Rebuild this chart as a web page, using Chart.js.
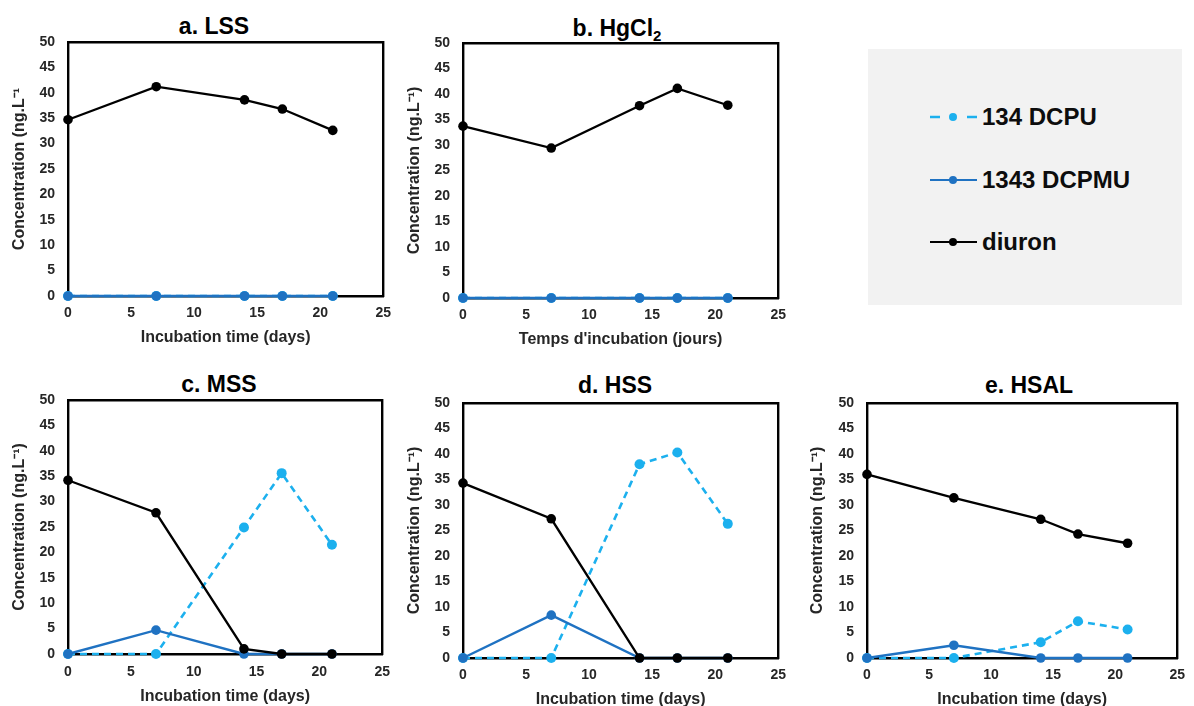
<!DOCTYPE html>
<html>
<head>
<meta charset="utf-8">
<script src="https://cdn.jsdelivr.net/npm/chart.js@4.4.0/dist/chart.umd.min.js"></script>
<style>
  html, body { margin:0; padding:0; background:#fff; }
  body { width:1194px; height:706px; overflow:hidden; position:relative; font-family:"Liberation Sans", Arial, sans-serif; }
  .panel { position:absolute; }
  .ptitle { position:absolute; width:300px; text-align:center; font-weight:bold; font-size:23px; line-height:23px; color:#000; white-space:nowrap; }
  .ptitle sub { font-size:15px; vertical-align:-5px; line-height:0; }
  #legend { position:absolute; left:868px; top:49px; width:314px; height:256px; background:#f2f2f2; }
  .lrow { position:absolute; left:926px; height:24px; }
  .lrow svg { position:absolute; left:0; top:0; }
  .lrow span { position:absolute; left:56px; top:0; font-weight:bold; font-size:24px; line-height:24px; color:#0d0d0d; white-space:nowrap; }
</style>
</head>
<body>
<div id="legend"></div>
<div class="lrow" style="top:105px">
  <svg width="56" height="24"><line x1="4" y1="12" x2="14" y2="12" stroke="#1cb0ee" stroke-width="2.5"/><circle cx="27" cy="12" r="4" fill="#1cb0ee"/><line x1="41" y1="12" x2="51" y2="12" stroke="#1cb0ee" stroke-width="2.5"/></svg>
  <span id="lg0"></span>
</div>
<div class="lrow" style="top:168px">
  <svg width="56" height="24"><line x1="4" y1="12" x2="51" y2="12" stroke="#1f72c2" stroke-width="2.2"/><circle cx="27" cy="12" r="4" fill="#1f72c2"/></svg>
  <span id="lg1"></span>
</div>
<div class="lrow" style="top:230px">
  <svg width="56" height="24"><line x1="4" y1="12" x2="51" y2="12" stroke="#000" stroke-width="2.2"/><circle cx="27" cy="12" r="4" fill="#000"/></svg>
  <span id="lg2"></span>
</div>

<div class="ptitle" style="left:64px; top:15px">a. LSS</div>
<div class="ptitle" style="left:467px; top:17px">b. HgCl<sub>2</sub></div>
<div class="ptitle" style="left:69px; top:373px">c. MSS</div>
<div class="ptitle" style="left:465px; top:374px">d. HSS</div>
<div class="ptitle" style="left:879px; top:374px">e. HSAL</div>

<div class="panel" style="left:0px; top:0px; width:400px; height:350px"><canvas id="cA" width="400" height="350"></canvas></div>
<div class="panel" style="left:395px; top:0px; width:400px; height:350px"><canvas id="cB" width="400" height="350"></canvas></div>
<div class="panel" style="left:0px; top:350px; width:400px; height:356px"><canvas id="cC" width="400" height="356"></canvas></div>
<div class="panel" style="left:395px; top:350px; width:400px; height:360px"><canvas id="cD" width="400" height="360"></canvas></div>
<div class="panel" style="left:798px; top:350px; width:396px; height:360px"><canvas id="cE" width="396" height="360"></canvas></div>

<script>
// ---- data ----
const days = [0, 7, 14, 17, 21];
const seriesNames = ['134 DCPU', '1343 DCPMU', 'diuron'];

const lssDCPU   = [0, 0, 0, 0, 0];
const lssDCPMU  = [0, 0, 0, 0, 0];
const lssDiuron = [34.7, 41.2, 38.6, 36.8, 32.6];

const hgDCPU    = [0, 0, 0, 0, 0];
const hgDCPMU   = [0, 0, 0, 0, 0];
const hgDiuron  = [33.7, 29.4, 37.7, 41.1, 37.8];

const mssDCPU   = [0, 0, 24.9, 35.6, 21.5];
const mssDCPMU  = [0, 4.7, 0, 0, 0];
const mssDiuron = [34.2, 27.8, 1.0, 0, 0];

const hssDCPU   = [0, 0, 38.0, 40.3, 26.3];
const hssDCPMU  = [0, 8.4, 0, 0, 0];
const hssDiuron = [34.3, 27.3, 0, 0, 0];

const hsalDCPU   = [0, 0, 3.1, 7.2, 5.6];
const hsalDCPMU  = [0, 2.5, 0, 0, 0];
const hsalDiuron = [36.0, 31.4, 27.2, 24.3, 22.5];

const xMin = 0, xMax = 25, xStep = 5;
const yMin = 0, yMax = 50, yStep = 5;

const xTitleEN = 'Incubation time (days)';
const xTitleFR = "Temps d'incubation (jours)";
const yTitleOpen = 'Concentration (ng.L\u207B\u00B9';
const yTitle = 'Concentration (ng.L\u207B\u00B9)';

// ---- styles ----
const FONT = '"Liberation Sans", Arial, sans-serif';
const COL_DCPU = '#1cb0ee', COL_DCPMU = '#1f72c2', COL_DIURON = '#000000';
const TXT = '#262626';

document.getElementById('lg0').textContent = seriesNames[0];
document.getElementById('lg1').textContent = seriesNames[1];
document.getElementById('lg2').textContent = seriesNames[2];

function pts(vals) { return days.map((d, i) => ({x: d, y: vals[i]})); }

function makePanel(id, o) {
  const datasets = [
    { label: seriesNames[2], data: pts(o.diuron), borderColor: COL_DIURON, backgroundColor: COL_DIURON,
      borderWidth: 2.3, pointRadius: 4.8, pointBorderWidth: 0, pointBackgroundColor: COL_DIURON, order: 0, clip: false },
    { label: seriesNames[1], data: pts(o.dcpmu), borderColor: COL_DCPMU, backgroundColor: COL_DCPMU,
      borderWidth: 2.4, pointRadius: 4.8, pointBorderWidth: 0, pointBackgroundColor: COL_DCPMU, order: 1, clip: false },
    { label: seriesNames[0], data: pts(o.dcpu), borderColor: COL_DCPU, backgroundColor: COL_DCPU,
      borderWidth: 2.6, borderDash: [7, 5], pointRadius: 5, pointBorderWidth: 0, pointBackgroundColor: COL_DCPU, order: 2, clip: false }
  ];
  new Chart(document.getElementById(id), {
    type: 'line',
    data: { datasets },
    options: {
      responsive: false,
      animation: false,
      devicePixelRatio: 1,
      layout: { padding: { left: 0, right: o.padR, top: o.padT, bottom: o.padB } },
      plugins: { legend: { display: false }, tooltip: { enabled: false }, title: { display: false } },
      elements: { line: { tension: 0 } },
      scales: {
        x: {
          type: 'linear', position: 'bottom', min: xMin, max: xMax,
          ticks: { stepSize: xStep, padding: o.xTickPad, color: TXT, font: { family: FONT, size: 14, weight: 'bold' }, maxRotation: 0, autoSkip: false },
          grid: { display: false, drawTicks: false },
          border: { display: true, color: '#000', width: 2.4 },
          title: { display: true, text: o.xTitle, color: TXT, font: { family: FONT, size: 16, weight: 'bold' }, padding: { top: 0, bottom: o.xTitlePadB } },
          afterFit: s => { s.height = o.xH; }
        },
        y: {
          type: 'linear', position: 'left', min: yMin, max: yMax,
          ticks: { stepSize: yStep, padding: 13, color: TXT, font: { family: FONT, size: 14, weight: 'bold' }, autoSkip: false },
          grid: { display: false, drawTicks: false },
          border: { display: true, color: '#000', width: 2.4 },
          title: { display: true, text: o.yTitle, color: TXT, font: { family: FONT, size: 16, weight: 'bold' }, padding: { top: 10.4, bottom: 0 } },
          afterFit: s => { s.width = o.yW; }
        },
        xTop: {
          type: 'linear', position: 'top', display: true, min: 0, max: 1,
          ticks: { display: false }, grid: { display: false, drawTicks: false },
          border: { display: true, color: '#000', width: 2.4 },
          afterFit: s => { s.height = 0; }
        },
        yRight: {
          type: 'linear', position: 'right', display: true, min: 0, max: 1,
          ticks: { display: false }, grid: { display: false, drawTicks: false },
          border: { display: true, color: '#000', width: 2.4 },
          afterFit: s => { s.width = 0; }
        }
      }
    }
  });
}

makePanel('cA', { dcpu: lssDCPU, dcpmu: lssDCPMU, diuron: lssDiuron, xTitle: xTitleEN, yTitle: yTitleOpen,
  yW: 68, padR: 13, padT: 42, padB: 0, xH: 54, xTickPad: 9, xTitlePadB: 3 });
makePanel('cB', { dcpu: hgDCPU, dcpmu: hgDCPMU, diuron: hgDiuron, xTitle: xTitleFR, yTitle: yTitle,
  yW: 68, padR: 13, padT: 43, padB: 0, xH: 52, xTickPad: 9, xTitlePadB: 1 });
makePanel('cC', { dcpu: mssDCPU, dcpmu: mssDCPMU, diuron: mssDiuron, xTitle: xTitleEN, yTitle: yTitle,
  yW: 68, padR: 13, padT: 50, padB: 0, xH: 52, xTickPad: 10, xTitlePadB: 0 });
makePanel('cD', { dcpu: hssDCPU, dcpmu: hssDCPMU, diuron: hssDiuron, xTitle: xTitleEN, yTitle: yTitle,
  yW: 68, padR: 13, padT: 53, padB: 1, xH: 51, xTickPad: 9, xTitlePadB: 0 });
makePanel('cE', { dcpu: hsalDCPU, dcpmu: hsalDCPMU, diuron: hsalDiuron, xTitle: xTitleEN, yTitle: yTitle,
  yW: 69, padR: 8, padT: 53, padB: 1, xH: 51, xTickPad: 9, xTitlePadB: 0 });
</script>
</body>
</html>
